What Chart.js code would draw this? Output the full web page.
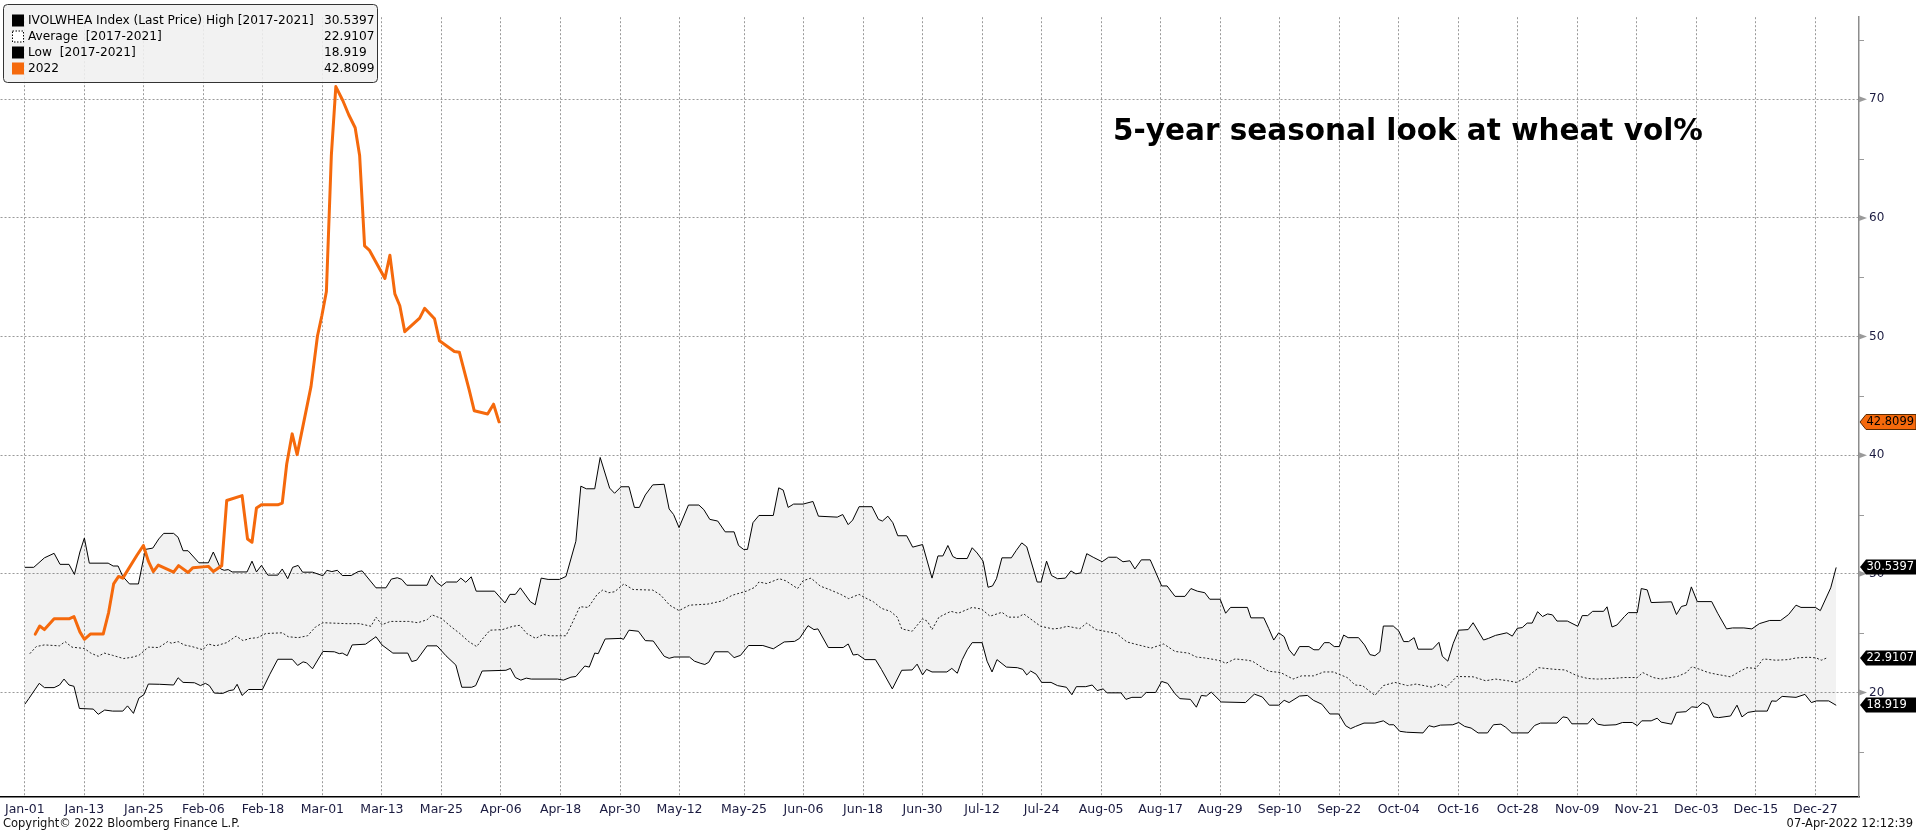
<!DOCTYPE html>
<html><head><meta charset="utf-8">
<script src="https://cdn.jsdelivr.net/npm/chart.js@4.4.1/dist/chart.umd.min.js"></script>
<style>html,body{margin:0;padding:0;background:#fff;overflow:hidden}#wrap{width:1916px;height:833px;position:relative}</style>
</head><body><div id="wrap"><canvas id="c" width="1916" height="833"></canvas></div>
<script>
// x positions are day-of-year on a leap-year calendar (Jan-01 = 0)
const tickDays = [0,12,24,36,48,60,72,84,96,108,120,132,145,157,169,181,193,205,217,229,241,253,265,277,289,301,313,325,337,349,361];
const tickLabels = ['Jan-01','Jan-13','Jan-25','Feb-06','Feb-18','Mar-01','Mar-13','Mar-25','Apr-06','Apr-18','Apr-30','May-12','May-25','Jun-06','Jun-18','Jun-30','Jul-12','Jul-24','Aug-05','Aug-17','Aug-29','Sep-10','Sep-22','Oct-04','Oct-16','Oct-28','Nov-09','Nov-21','Dec-03','Dec-15','Dec-27'];
const yTicks = [15,20,25,30,35,40,45,50,55,60,65,70,75];

const highDays = [0,1.8,3.95,5.9,7.1,8.9,10,11.1,12,13,16.8,17.8,18.8,19.75,21.1,22.9,24.3,25.8,27,28,30,30.9,31.9,32.9,35.1,37,38,39.5,40.2,41,41.8,44.8,45.8,46.7,47.7,49,51,51.9,53,54,55.1,56,58,60.1,60.9,61.9,63,64,65.8,67.2,68,70.8,72.8,73.9,75.1,76,77,81.1,82,83,84,85,87.1,87.9,88.9,90,91,94.7,96.8,97.8,98.9,99.9,101.9,102.9,104.1,105.5,107.8,109.1,111.1,112.1,113.2,114.9,116,117.9,118.9,120.2,121.8,122.9,123.9,125.1,126.6,128.9,129.9,130.8,131.9,133.8,135.9,136.9,138.1,139.7,141.2,143,143.9,144.9,145.7,146.8,148,150.9,152,152.9,153.9,155,156.9,158.9,160,163.8,164.9,166,166.9,168.2,170.8,172.1,172.9,174,175,176,177.8,179,181,182.9,184.1,185.1,186.1,187.1,187.9,190,191,192,193.2,194.2,195.1,195.9,197,198.9,199.9,201,202,204.1,204.9,206,207,208.2,209.8,210.9,211.9,212.9,214.1,215.4,217.2,218.5,220.1,221.4,222.8,223.8,225.1,226.9,229.2,230.3,231.9,233.9,235.1,236.4,237.9,238.9,241,242.1,243.1,246.5,247.2,249.8,250.8,251.8,252.8,253.9,254.9,255.9,257,258.9,259.9,260.9,262,263,264,265,265.9,266.8,268.9,270.1,271.2,272.2,273.2,273.9,275.9,277,278,279,280.1,280.9,283.8,285.1,285.8,286.9,288,289.1,291,292,294.1,295.1,296.5,298.8,299.9,300.9,301.9,302.9,303.9,305,306,307,308,308.9,311,313.1,314,315.1,316.1,318.3,319,320,321,322.5,323.3,325.1,325.9,327.1,327.9,332,333,334,335,336,337.2,340.1,341.3,343.1,344.3,346.6,348.2,349.7,351.8,354,355.6,357.1,358.1,361,362,364.1,365.2];
const highVals = [30.55,30.55,31.35,31.73,30.8,30.8,29.95,31.84,33.02,30.9,30.9,30.66,30.66,29.78,29.15,29.15,32.06,32.17,32.94,33.41,33.41,33.08,31.95,31.95,30.93,30.93,31.84,30.41,30.3,30.36,30.16,30.16,31.07,30.16,30.71,29.89,29.89,30.41,29.59,30.55,30.71,30.14,30.14,29.84,30.3,30.19,30.3,29.86,29.86,30.19,30.25,28.82,28.82,29.56,29.67,29.53,29.04,29.04,29.89,29.29,28.98,29.31,29.31,29.64,29.29,29.75,28.54,28.54,27.55,28.27,28.27,28.82,27.66,27.39,29.64,29.53,29.53,29.78,32.75,37.39,37.17,37.17,39.81,37.23,36.79,37.34,37.34,35.6,35.6,36.65,37.5,37.55,35.47,35,33.9,35.8,35.8,35.41,34.59,34.45,33.54,33.54,32.39,32.06,32.06,34.31,34.92,34.92,37.25,37.06,35.6,35.88,35.88,36.1,34.86,34.78,35,34.15,34.53,35.66,35.66,34.59,34.45,34.86,34.31,33.21,33.21,32.25,32.47,29.64,31.51,31.51,32.39,31.46,31.29,31.29,32.2,31.76,31.07,28.87,28.98,29.59,31.35,31.35,31.98,32.61,32.28,29.31,29.31,31.07,29.86,29.59,29.64,30.25,30,30.08,31.7,31.4,31.02,31.4,31.4,31.02,31.1,30.41,31.18,31.18,28.98,28.98,28.1,28.1,28.76,28.54,28.41,27.86,27.86,26.68,27.17,27.17,26.29,26.29,25.38,24.42,25.03,24.7,23.6,23.1,23.87,23.87,23.6,23.6,24.2,24.2,23.87,23.87,24.84,24.62,24.62,24.01,23.19,23.1,23.43,25.6,25.6,25.19,24.29,24.29,24.62,23.65,23.65,24.23,23.05,22.64,24.15,25.25,25.3,25.88,24.42,24.56,24.81,25.03,24.75,25.41,25.47,25.85,25.85,26.81,26.4,26.62,26.54,26.02,26.02,25.58,26.48,26.48,26.84,26.84,27.22,25.52,25.69,26.4,26.73,26.73,28.76,28.65,27.58,27.64,26.57,27.25,27.36,28.9,27.66,27.66,26.68,25.36,25.44,25.44,25.36,25.8,26.07,26.07,26.57,27.36,27.17,27.17,26.9,28.82,30.54];

const avgDays = [1,2.3,3.95,7,8.1,9.5,12,13.3,14.8,16,17.7,19.9,21.6,23,24.9,27,28.8,29.6,30.9,32.1,33.7,35.9,36.9,38.5,40.7,42.6,44,45.4,46.9,48.6,51.9,53.1,55.1,57,58.6,60.1,65,67.5,69.8,70.8,72,73.7,77.4,79.2,81.1,82.1,84,86,87.7,89.5,91.1,92.2,93.8,96.3,98.4,99.8,101.2,103,104.5,105.8,109.1,110.3,111.9,113.6,115.4,116.5,117.7,118.9,120.8,122.6,126.6,128.2,130,131.9,134,137.7,140.6,142.6,145.5,147.2,148,149.6,152.1,153.4,155.8,156.9,158.5,160.4,162.2,164.5,166.1,168.2,169.4,171.1,172.7,174.5,175.9,176.8,178.9,181,182,182.9,184.3,186.7,188.2,191,192.9,194.6,197,198.3,200.3,201.4,204.8,207.3,208.6,210.2,212.7,214.1,216,220.1,222.2,224.5,227.1,229.6,231.9,234.6,236.2,237.9,239.9,241.2,242.1,244,246.5,247.5,249.5,250.8,253.2,255.7,257.4,259.8,261.9,263.8,266.6,268.2,269.7,272.2,273.9,276.2,278.8,280.5,283.8,285.2,286.6,288.7,292,294.5,296.5,299,300.7,302.7,305.2,308.5,310.5,313,315.1,317.1,320,322.5,325.1,326.2,328.3,329.9,333.2,335,336.1,337.7,339.4,341,343.9,345.9,347.2,349,350.5,353,355.5,357.1,359.6,361.2,362.2,363.3];
const avgVals = [23.27,23.87,24.01,23.93,24.29,23.82,23.71,23.32,23.05,23.32,23.13,22.86,22.97,23.13,23.82,23.79,24.29,24.15,24.29,24.01,23.87,23.6,24.09,23.93,24.2,24.75,24.37,24.56,24.62,24.97,25.03,24.7,24.62,24.78,25.52,25.88,25.8,25.8,25.58,26.35,25.71,25.99,25.99,25.88,26.13,26.54,26.24,25.52,24.97,24.29,23.87,24.48,25.25,25.3,25.58,25.66,24.97,24.56,24.89,24.78,24.78,25.8,27.23,27.17,28.27,28.63,28.41,28.49,29.15,28.68,28.63,28.21,27.36,26.9,27.36,27.45,27.72,28.19,28.54,28.87,29.31,29.18,29.59,29.42,28.76,29.42,29.64,28.96,28.68,28.27,27.91,28.27,27.99,27.64,27.09,26.84,26.35,25.36,25.16,26.21,25.99,25.3,26.35,26.84,26.68,27.17,27.03,26.43,26.76,26.35,26.35,26.62,25.58,25.36,25.41,25.58,25.38,25.85,25.3,24.97,24.26,24.01,23.74,24.09,23.46,23.32,22.99,22.91,22.77,22.66,22.45,22.83,22.72,22.64,22.09,21.79,21.68,21.13,21.4,21.4,21.73,21.73,21.26,20.63,20.58,19.75,20.58,20.85,20.58,20.71,20.44,20.71,20.44,21.35,21.32,20.99,21.13,20.99,20.85,21.26,22.09,21.95,21.9,21.4,21.18,21.13,21.18,21.26,21.26,21.68,21.26,21.13,21.35,21.68,22.17,21.95,21.68,21.54,21.32,21.81,22.09,22.03,22.83,22.72,22.77,22.91,22.97,22.91,22.72,22.91];

const lowDays = [0,0.8,2.9,3.95,5.9,7,7.9,8.9,9.9,11,13.8,14.8,16.1,17.7,19.75,20.7,21.9,23,24,24.9,27.2,30,30.9,31.9,34.2,35.4,36.4,37.2,38.2,39.9,41.2,42.1,42.8,43.8,45.1,47.9,49.4,51,53.9,55,56.1,56.8,58,60.1,62.4,63.4,64,65,66,68.7,70.8,72,74.2,77.2,78,79,81.1,83.1,84.9,86.9,88.1,90.1,90.9,92.2,97,97.9,98.9,100,101.1,102.1,107.4,108.6,110.1,111.1,112.9,113.8,114.9,115.6,117,120.2,120.7,121.8,123.7,125.1,126.7,128.9,129.9,130.9,134,135,136.3,137.1,137.9,139.1,141.8,143,144.3,145.9,148.8,150.9,153.1,155.2,156.2,157.9,159.1,159.9,162,165,166,167,167.9,169.4,171.5,172.7,174.9,176.8,178.9,179.9,181,181.8,182.9,185.9,186.9,188,189,190,191,193,194,195,196,197.9,200.1,201.2,202,202.8,203.9,205,206.9,208.2,210,211.1,212,213.9,215.2,216.2,217.4,218.2,221,222,223.2,225.1,226.1,228,229.2,230.4,231.9,232.9,235,236.2,237.2,238.2,239.2,241.2,246.1,247.9,249.5,250.9,252.8,253.9,254.9,257,258.6,259.8,261.5,263.1,264.9,266.3,267.3,268.3,270,272.2,273.9,275.1,276,277.2,278.6,281.9,283.1,284.1,285.4,287.9,289.1,290.3,291.6,293,294.9,296.1,297.6,298.6,299.8,303.1,304.4,305.6,308.9,310.1,311,311.9,315.1,316.1,317.1,318.4,320.8,322.1,324.1,325.1,326,327.9,329.1,329.9,332,333,334.9,336.1,337.2,338.3,339.4,340.5,341.5,343.9,345.2,346.2,347.4,349,351.3,352.2,353.1,354.3,357.1,358.9,360.2,361.2,363.7,365.2];
const lowVals = [19.01,19.48,20.77,20.41,20.41,20.63,21.13,20.63,20.52,18.65,18.6,18.16,18.52,18.43,18.43,18.87,18.24,19.53,19.81,20.71,20.69,20.63,21.24,20.85,20.82,20.58,20.77,20.58,19.95,19.92,20.16,20.22,20.69,19.75,20.25,20.25,21.54,22.8,22.8,22.28,22.58,22.5,22,23.46,23.43,23.27,23.32,23.1,24.01,24.07,24.7,24.01,23.32,23.32,22.61,22.72,23.93,23.93,23.1,22.31,20.44,20.44,20.58,21.81,21.87,22.03,21.26,21.04,21.21,21.13,21.13,21.04,21.29,21.35,22.23,22.14,23.32,23.27,24.51,24.56,24.48,25.25,25.16,24.37,24.34,23.05,22.88,22.99,22.99,22.64,22.45,22.36,22.55,23.43,23.43,22.94,23.13,23.96,23.96,23.68,24.26,24.31,24.56,25.63,25.3,25.36,23.79,23.79,24.09,23.16,23.21,22.77,22.77,21.95,20.3,21.87,21.9,22.39,21.48,21.95,21.73,21.73,22.03,21.62,22.77,23.6,24.2,24.2,22.64,21.73,22.77,22.14,22.09,21.95,21.48,21.81,21.54,20.85,20.85,20.58,20.44,19.81,20.49,20.49,20.63,20.16,20.3,19.97,19.97,19.42,19.59,19.59,20,20,20.93,20.77,19.89,19.48,19.42,18.76,19.75,19.7,20.03,19.2,19.15,19.86,19.62,18.93,18.93,19.34,19.15,19.7,19.75,19.34,19.01,18.19,18.19,17.2,16.95,17.14,17.42,17.42,17.61,17.28,17.28,16.73,16.65,16.59,17.2,17.09,17.25,17.28,17.47,17.14,17,16.59,16.59,17.28,17.33,17.06,16.59,16.59,17.22,17.42,17.42,17.94,17.88,17.36,17.36,17.83,17.33,17.23,17.28,17.47,17.47,17.2,17.61,17.61,17.83,17.5,17.33,18.32,18.38,18.79,18.74,19.15,18.93,17.94,17.88,18.02,18.93,17.94,18.32,18.43,18.43,19.29,19.26,19.67,19.59,19.84,19.15,19.29,19.29,18.92];

const y2022Days = [2.1,3,3.95,5.9,8.9,9.9,11.1,12,13.2,15.8,16.9,17.9,18.9,19.75,22.6,23.9,24.9,25.9,26.9,30,31,32.9,33.9,37,38,39.7,40.7,43.8,44.9,45.8,46.7,47.7,51,51.9,52.8,53.9,54.9,57.7,59,59.9,60.8,61.8,62.7,64.1,65.3,66.6,67.5,68.5,69.5,72.6,73.6,74.6,75.6,76.6,79.6,80.6,82.6,83.6,86.6,87.6,89.6,90.6,93.3,94.5,95.6];
const y2022Vals = [24.92,25.6,25.3,26.21,26.21,26.4,25.11,24.48,24.92,24.92,26.76,29.15,29.78,29.64,31.57,32.39,31.07,30.19,30.74,30.14,30.69,30.11,30.52,30.63,30.19,30.69,36.18,36.59,32.94,32.66,35.55,35.82,35.82,35.96,39.26,41.8,40.05,45.8,50.05,51.8,53.8,65.3,71.07,69.9,68.7,67.6,65.26,57.64,57.26,54.9,56.85,53.6,52.6,50.41,51.56,52.38,51.5,49.64,48.74,48.68,45.48,43.75,43.48,44.3,42.81];

const seriesLabels = ['IVOLWHEA Index (Last Price) High [2017-2021]','Average  [2017-2021]','Low  [2017-2021]','2022'];
const lastValues = [30.5397, 22.9107, 18.919, 42.8099];
const lastValueText = ['30.5397','22.9107','18.919','42.8099'];

const ORANGE = '#f5690c';
const NAVY = '#1b1b40';
const FONT = '"DejaVu Sans", Verdana, sans-serif';
const zip = (xs, ys) => xs.map((x, i) => ({x, y: ys[i]}));

const overlay = {
  id: 'overlay',
  afterDraw(chart) {
    const ctx = chart.ctx;
    const ys = chart.scales.y;
    const area = chart.chartArea;
    const R = area.right;
    ctx.save();
    // right axis tick marks
    yTicks.forEach(v => {
      const py = ys.getPixelForValue(v);
      ctx.fillStyle = '#9a9a9a';
      ctx.strokeStyle = '#9a9a9a';
      if (v % 10 === 0) {
        ctx.beginPath();
        ctx.moveTo(R, py - 3);
        ctx.lineTo(R + 8, py);
        ctx.lineTo(R, py + 3);
        ctx.closePath();
        ctx.fill();
      } else {
        ctx.lineWidth = 1;
        ctx.beginPath();
        ctx.moveTo(R, Math.round(py) + 0.5);
        ctx.lineTo(R + 5, Math.round(py) + 0.5);
        ctx.stroke();
      }
    });
    // value tags
    const tagColors = ['#000', '#000', '#000', ORANGE];
    const tagText = ['#fff', '#fff', '#fff', '#000'];
    [3, 0, 1, 2].forEach(i => {
      const cy = Math.round(ys.getPixelForValue(lastValues[i]));
      const x0 = R + 1, x1 = R + 7, x2 = 1916, h = 7.5;
      ctx.beginPath();
      ctx.moveTo(x0, cy);
      ctx.lineTo(x1, cy - h);
      ctx.lineTo(x2, cy - h);
      ctx.lineTo(x2, cy + h);
      ctx.lineTo(x1, cy + h);
      ctx.closePath();
      ctx.fillStyle = tagColors[i];
      ctx.fill();
      if (i === 3) { ctx.strokeStyle = '#5a2a00'; ctx.lineWidth = 1; ctx.stroke(); }
      ctx.fillStyle = tagText[i];
      ctx.font = '11.5px ' + FONT;
      ctx.textAlign = 'left';
      ctx.textBaseline = 'middle';
      ctx.fillText(lastValueText[i], R + 7.5, cy + 0.5);
    });
    // legend box
    const bx = 3.5, by = 4.5, bw = 374, bh = 78, r = 4;
    ctx.beginPath();
    ctx.moveTo(bx + r, by);
    ctx.lineTo(bx + bw - r, by); ctx.quadraticCurveTo(bx + bw, by, bx + bw, by + r);
    ctx.lineTo(bx + bw, by + bh - r); ctx.quadraticCurveTo(bx + bw, by + bh, bx + bw - r, by + bh);
    ctx.lineTo(bx + r, by + bh); ctx.quadraticCurveTo(bx, by + bh, bx, by + bh - r);
    ctx.lineTo(bx, by + r); ctx.quadraticCurveTo(bx, by, bx + r, by);
    ctx.closePath();
    ctx.fillStyle = 'rgba(240,240,240,0.88)';
    ctx.fill();
    ctx.strokeStyle = '#333';
    ctx.lineWidth = 1;
    ctx.stroke();
    ctx.font = '12.2px ' + FONT;
    ctx.textBaseline = 'middle';
    ctx.textAlign = 'left';
    seriesLabels.forEach((lab, i) => {
      const cy = 20.5 + i * 16;
      if (i === 1) {
        ctx.fillStyle = '#fff';
        ctx.fillRect(12, cy - 6, 12, 12);
        ctx.setLineDash([1.5, 1.5]);
        ctx.strokeStyle = '#000';
        ctx.strokeRect(12.5, cy - 5.5, 11, 11);
        ctx.setLineDash([]);
      } else {
        ctx.fillStyle = i === 3 ? ORANGE : '#000';
        ctx.fillRect(12, cy - 6, 12, 12);
      }
      ctx.fillStyle = '#000';
      ctx.fillText(lab, 28, cy);
      ctx.fillText(lastValueText[i], 324, cy);
    });
    // title
    ctx.font = 'bold 29.5px "DejaVu Sans", sans-serif';
    ctx.fillStyle = '#000';
    ctx.textBaseline = 'alphabetic';
    ctx.fillText('5-year seasonal look at wheat vol%', 1113, 140);
    // footer
    ctx.font = '11.5px ' + FONT;
    ctx.textBaseline = 'middle';
    ctx.fillStyle = '#111';
    ctx.fillText('Copyright\u00a9 2022 Bloomberg Finance L.P.', 3, 824);
    ctx.textAlign = 'right';
    ctx.fillText('07-Apr-2022 12:12:39', 1913, 824);
    ctx.restore();
  }
};

new Chart(document.getElementById('c'), {
  type: 'line',
  data: {
    datasets: [
      { label: seriesLabels[0], data: zip(highDays, highVals), borderColor: '#000', borderWidth: 1, fill: 2, backgroundColor: 'rgba(0,0,0,0.05)', order: 2 },
      { label: seriesLabels[1], data: zip(avgDays, avgVals), borderColor: '#222', borderWidth: 1, borderDash: [2, 2], fill: false, order: 2 },
      { label: seriesLabels[2], data: zip(lowDays, lowVals), borderColor: '#000', borderWidth: 1, fill: false, order: 2 },
      { label: seriesLabels[3], data: zip(y2022Days, y2022Vals), borderColor: ORANGE, borderWidth: 3, fill: false, order: 0, borderJoinStyle: 'round', borderCapStyle: 'round' }
    ]
  },
  options: {
    responsive: false,
    devicePixelRatio: 1,
    animation: false,
    layout: { padding: 0 },
    elements: { point: { radius: 0 }, line: { tension: 0 } },
    plugins: {
      legend: { display: false },
      tooltip: { enabled: false },
      filler: { drawTime: 'beforeDatasetsDraw' }
    },
    scales: {
      x: {
        type: 'linear',
        position: 'bottom',
        min: -4.9,
        max: 369.8,
        afterBuildTicks: s => { s.ticks = tickDays.map(v => ({ value: v })); },
        afterFit: s => { s.height = 36; },
        ticks: {
          autoSkip: false, maxRotation: 0, padding: 5,
          color: NAVY,
          font: { family: FONT, size: 12.5 },
          callback: v => tickLabels[tickDays.indexOf(v)]
        },
        grid: { color: '#9a9a9a', lineWidth: 1, drawTicks: false },
        border: { color: '#000', width: 1.5, dash: [2, 2] }
      },
      y: {
        type: 'linear',
        position: 'right',
        min: 11.19,
        max: 76.92,
        afterBuildTicks: s => { s.ticks = yTicks.map(v => ({ value: v })); },
        afterFit: s => { s.width = 57; },
        ticks: {
          padding: 10,
          color: NAVY,
          font: { family: FONT, size: 12 },
          callback: v => (v % 10 === 0 ? String(v) : '')
        },
        grid: {
          color: c => (c.tick && c.tick.value % 10 === 0 ? '#9a9a9a' : 'rgba(0,0,0,0)'),
          lineWidth: 1, drawTicks: false
        },
        border: { color: '#8c8c8c', width: 1.5, dash: [2, 2] }
      }
    }
  },
  plugins: [overlay]
});
</script>
</body></html>
